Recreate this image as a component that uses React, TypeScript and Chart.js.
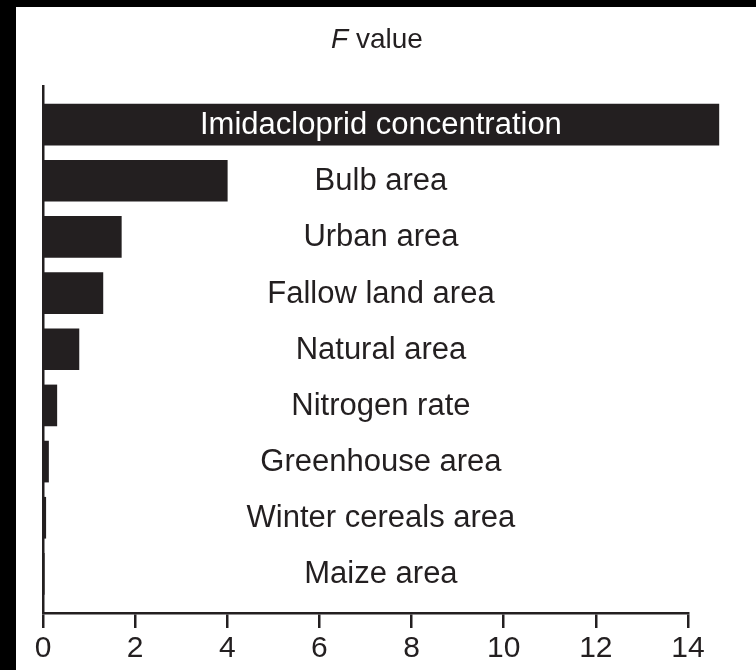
import React, { useEffect, useRef } from 'react';
import { Chart, registerables } from 'chart.js';

Chart.register(...registerables);

const categories = [
  'Imidacloprid concentration',
  'Bulb area',
  'Urban area',
  'Fallow land area',
  'Natural area',
  'Nitrogen rate',
  'Greenhouse area',
  'Winter cereals area',
  'Maize area',
];
const fValues = [14.67, 4.0, 1.7, 1.3, 0.78, 0.3, 0.12, 0.06, 0.01];
const xTicks = [0, 2, 4, 6, 8, 10, 12, 14];
const titleItalic = 'F';
const titleRest = ' value';

const INK = '#231f20';
const FONT = '"Liberation Sans", Arial, Helvetica, sans-serif';

const overlayPlugin = {
  id: 'overlayText',
  afterDatasetsDraw(chart: any) {
    const ctx = chart.ctx;
    const xs = chart.scales.x;
    const ys = chart.scales.y;
    const x0 = xs.getPixelForValue(0);
    const xMax = xs.getPixelForValue(Math.max(...fValues));
    const cx = (x0 + xMax) / 2;
    ctx.save();
    ctx.font = `31px ${FONT}`;
    ctx.textAlign = 'center';
    ctx.textBaseline = 'middle';
    categories.forEach((c, i) => {
      const y = ys.getPixelForValue(i);
      const w = ctx.measureText(c).width;
      const barEnd = xs.getPixelForValue(fValues[i]);
      ctx.fillStyle = barEnd > cx + w / 2 ? '#ffffff' : INK;
      ctx.fillText(c, cx, y + 1);
    });
    // title
    ctx.textAlign = 'left';
    ctx.textBaseline = 'middle';
    ctx.font = `italic 28px ${FONT}`;
    const w1 = ctx.measureText(titleItalic).width;
    ctx.font = `28px ${FONT}`;
    const w2 = ctx.measureText(titleRest).width;
    const tx = cx - 4 - (w1 + w2) / 2;
    const ty = 33;
    ctx.fillStyle = INK;
    ctx.font = `italic 28px ${FONT}`;
    ctx.fillText(titleItalic, tx, ty);
    ctx.font = `28px ${FONT}`;
    ctx.fillText(titleRest, tx + w1, ty);
    ctx.restore();
  },
};

export default function App() {
  const ref = useRef<HTMLCanvasElement>(null);
  useEffect(() => {
    if (!ref.current) return;
    const chart = new Chart(ref.current, {
      type: 'bar',
      data: {
        datasets: [
          {
            data: fValues.map((v, i) => ({ x: v, y: i })),
            backgroundColor: INK,
            borderWidth: 0,
            barThickness: 41,
            clip: false as any,
          },
        ],
      },
      options: {
        indexAxis: 'y',
        animation: false,
        responsive: false,
        layout: { padding: { top: 79, left: 27, right: 68, bottom: 0 } },
        plugins: { legend: { display: false }, tooltip: { enabled: false }, title: { display: false } },
        scales: {
          y: {
            type: 'linear',
            reverse: true,
            offset: false,
            min: -0.6875,
            max: 8.696,
            ticks: { display: false },
            grid: { display: false, drawTicks: false, offset: false },
            border: { display: true, color: INK, width: 2.5 },
          },
          x: {
            type: 'linear',
            min: 0,
            max: 14,
            offset: false,
            afterBuildTicks: (s: any) => {
              s.ticks = xTicks.map((v) => ({ value: v }));
            },
            ticks: {
              color: INK,
              padding: 6,
              maxRotation: 0,
              font: { family: FONT, size: 30, lineHeight: 1.0 },
            },
            grid: {
              display: true,
              drawOnChartArea: false,
              drawTicks: true,
              tickLength: 15,
              color: INK,
              lineWidth: 2.5,
            },
            border: { display: true, color: INK, width: 2.5 },
          },
        },
      },
      plugins: [overlayPlugin],
    });
    return () => chart.destroy();
  }, []);
  return (
    <div style={{ position: 'fixed', inset: 0, background: '#000' }}>
      <div style={{ position: 'absolute', left: 16, top: 7, right: 0, bottom: 0, background: '#fff' }}>
        <canvas ref={ref} width={740} height={663} style={{ display: 'block', width: 740, height: 663 }} />
      </div>
    </div>
  );
}
